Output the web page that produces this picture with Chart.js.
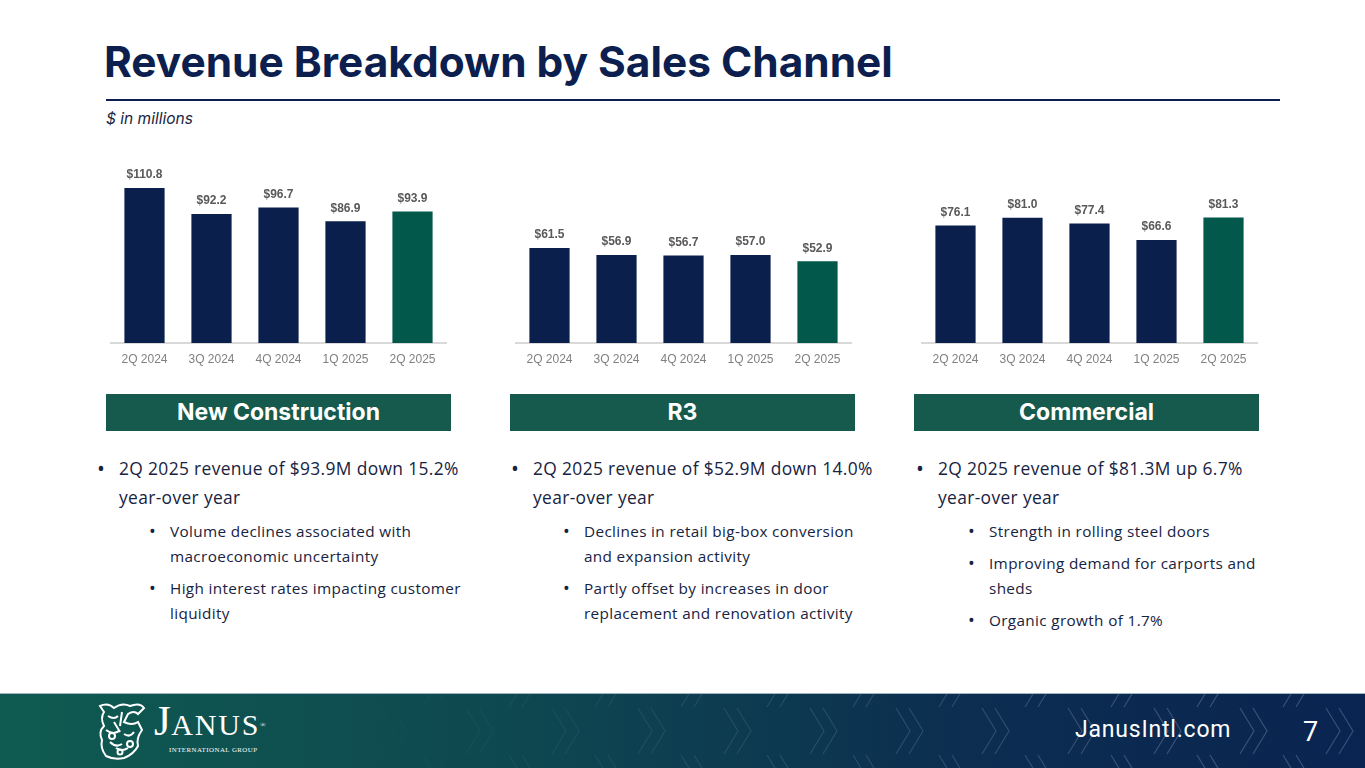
<!DOCTYPE html>
<html><head><meta charset="utf-8">
<script src="https://cdn.jsdelivr.net/npm/chart.js@4.4.1/dist/chart.umd.min.js"></script>
<style>
html,body{margin:0;padding:0;background:#fff;}
body{width:1365px;height:768px;position:relative;overflow:hidden;font-family:"Open Sans",sans-serif;color:#14213d;}
.abs{position:absolute;}
#title{left:104px;top:41px;font-family:Inter,sans-serif;font-weight:700;font-size:42.4px;color:#0c1f4f;white-space:nowrap;line-height:1;}
#rule{left:106px;top:99px;width:1174px;height:2px;background:#0c1f4f;}
#unit{left:106px;top:109px;font-family:Inter,sans-serif;font-style:italic;font-size:15.5px;color:#1a2540;}
.hdr{top:394px;width:345px;height:37px;background:#155a4c;color:#fff;font-family:Inter,sans-serif;font-weight:700;font-size:23px;line-height:37px;text-align:center;}
.col{top:454px;font-family:"Open Sans",sans-serif;color:#17233f;}
.col ul{margin:0;padding:0;list-style:none;}
.l1{position:relative;padding-left:21px;font-size:17.4px;letter-spacing:0.35px;line-height:29px;}
.l1:before{content:"•";position:absolute;left:-1px;top:0;font-size:21px;}
.l2{position:relative;padding-left:72px;font-size:15.3px;letter-spacing:0.35px;line-height:25px;margin-top:7px;}
.l2:before{content:"•";position:absolute;left:51px;top:0;font-size:18px;}
canvas{position:absolute;}
#footer{left:0;top:693px;width:1365px;height:75px;background:linear-gradient(90deg,#0f5b51 0%,#0e4650 40%,#0c2e50 70%,#0a2451 100%);border-top:1px solid #9fb6c2;}
#site{left:1075px;top:716px;font-family:Roboto,sans-serif;font-size:23px;letter-spacing:0.8px;color:#fff;line-height:1.2;}
#page{left:1303px;top:716px;font-family:Roboto,sans-serif;font-size:27px;color:#fff;line-height:1.2;}
#janus{left:154px;top:700px;font-family:"Liberation Serif",serif;color:#fff;font-size:30px;letter-spacing:1.8px;line-height:42px;white-space:nowrap;}
#janus span{font-size:43px;letter-spacing:0.5px;}
#intl{left:169px;top:746px;font-family:"Liberation Serif",serif;color:#fff;font-size:6.9px;letter-spacing:0.45px;white-space:nowrap;}
</style></head>
<body>
<div id="title" class="abs">Revenue Breakdown by Sales Channel</div>
<div id="rule" class="abs"></div>
<div id="unit" class="abs">$ in millions</div>

<canvas id="c1" style="left:106px;top:140px;width:345px;height:233px;" width="345" height="233"></canvas>
<canvas id="c2" style="left:511px;top:140px;width:345px;height:233px;" width="345" height="233"></canvas>
<canvas id="c3" style="left:917px;top:140px;width:345px;height:233px;" width="345" height="233"></canvas>

<div class="abs hdr" style="left:106px;">New Construction</div>
<div class="abs hdr" style="left:510px;">R3</div>
<div class="abs hdr" style="left:914px;">Commercial</div>

<div class="abs col" style="left:98px;width:370px;">
<ul><li class="l1">2Q 2025 revenue of $93.9M down 15.2% year-over year</li>
<li class="l2">Volume declines associated with macroeconomic uncertainty</li>
<li class="l2">High interest rates impacting customer liquidity</li></ul></div>
<div class="abs col" style="left:512px;width:362px;">
<ul><li class="l1">2Q 2025 revenue of $52.9M down 14.0% year-over year</li>
<li class="l2">Declines in retail big-box conversion and expansion activity</li>
<li class="l2">Partly offset by increases in door replacement and renovation activity</li></ul></div>
<div class="abs col" style="left:917px;width:365px;">
<ul><li class="l1">2Q 2025 revenue of $81.3M up 6.7% year-over year</li>
<li class="l2">Strength in rolling steel doors</li>
<li class="l2">Improving demand for carports and sheds</li>
<li class="l2">Organic growth of 1.7%</li></ul></div>

<div id="footer" class="abs">
<svg width="1365" height="75" style="position:absolute;left:0;top:0" id="chev"></svg>
</div>
<svg class="abs" style="left:94px;top:700px" width="56" height="62" viewBox="0 0 56 62">
<g fill="none" stroke="#fff" stroke-width="2">
<path d="M6 6 Q14 2 20 8 Q28 2 36 6 Q46 2 50 8 L44 14 Q40 10 34 14 L30 22 Q38 26 44 22 L48 30 Q42 38 44 46 Q40 54 30 58 Q20 60 12 56 Q6 48 8 40 Q4 32 10 26 Q6 18 10 12 Z"/>
<path d="M14 16 q6 4 10 0 M12 30 q8 6 14 0 M16 42 q6 6 12 2 M30 34 q6 4 10 -2 M22 48 q6 4 12 0 M28 12 l-2 14 M20 22 l6 10"/>
<circle cx="18" cy="36" r="3"/><circle cx="36" cy="44" r="3"/><circle cx="26" cy="52" r="2.5"/>
</g></svg>
<div id="janus" class="abs"><span>J</span>ANUS<sup style="font-size:7px;vertical-align:top;position:relative;top:4px">®</sup></div>
<div id="intl" class="abs">INTERNATIONAL GROUP</div>
<div id="site" class="abs">JanusIntl.com</div>
<div id="page" class="abs">7</div>

<script>
// ---- data ----
const quarters = ["2Q 2024","3Q 2024","4Q 2024","1Q 2025","2Q 2025"];
const newConstruction = [110.8, 92.2, 96.7, 86.9, 93.9];
const r3 = [61.5, 56.9, 56.7, 57.0, 52.9];
const commercial = [76.1, 81.0, 77.4, 66.6, 81.3];
const NAVY = "#0a1f4b", GREEN = "#02594b";
const barColors = [NAVY, NAVY, NAVY, NAVY, GREEN];

// chevron decoration in footer (background ornament)
(function(){
  const svg = document.getElementById('chev');
  let s = '';
  const rows = [-10, 37, 84];
  rows.forEach((cy, r) => {
    const off = (r % 2) ? 0 : 43;
    for (let x = 380 + off; x < 1400; x += 86) {
      const op = Math.max(0.03, Math.min(0.28, (x - 380) / 3200 + 0.03));
      for (const dx of [0, 13]) {
        s += `<path d="M${x+dx} ${cy-23} l14 23 l-14 23" fill="none" stroke="rgba(175,195,220,${op.toFixed(3)})" stroke-width="1.2"/>`;
      }
    }
  });
  svg.innerHTML = s;
})();

const valueLabels = {
  id: 'valueLabels',
  afterDatasetsDraw(chart) {
    const ctx = chart.ctx;
    const meta = chart.getDatasetMeta(0);
    ctx.save();
    ctx.font = 'bold 12px "Liberation Sans", Arial, sans-serif';
    ctx.fillStyle = '#595959';
    ctx.textAlign = 'center';
    ctx.textBaseline = 'bottom';
    meta.data.forEach((bar, i) => {
      const v = chart.data.datasets[0].data[i];
      ctx.fillText('$' + v.toFixed(1), bar.x, bar.y - 7);
    });
    ctx.restore();
  }
};

function makeChart(id, values, ymax) {
  new Chart(document.getElementById(id), {
    type: 'bar',
    data: { labels: quarters, datasets: [{ data: values, backgroundColor: barColors, barPercentage: 0.6, categoryPercentage: 1.0 }] },
    options: {
      responsive: false, animation: false, devicePixelRatio: 1,
      layout: { padding: { left: 5, right: 5, top: 0, bottom: 0 } },
      plugins: { legend: { display: false }, tooltip: { enabled: false } },
      scales: {
        x: {
          grid: { display: false, drawTicks: false },
          border: { display: true, color: '#d9d9d9', width: 2 },
          ticks: { color: '#808080', font: { family: '"Liberation Sans", Arial, sans-serif', size: 12 }, padding: 9, maxRotation: 0 },
          afterFit: (axis) => { axis.height = 30; }
        },
        y: { display: false, min: 0, max: ymax }
      }
    },
    plugins: [valueLabels]
  });
}
makeChart('c1', newConstruction, 145);
makeChart('c2', r3, 131.4);
makeChart('c3', commercial, 131.4);
</script>
</body></html>
